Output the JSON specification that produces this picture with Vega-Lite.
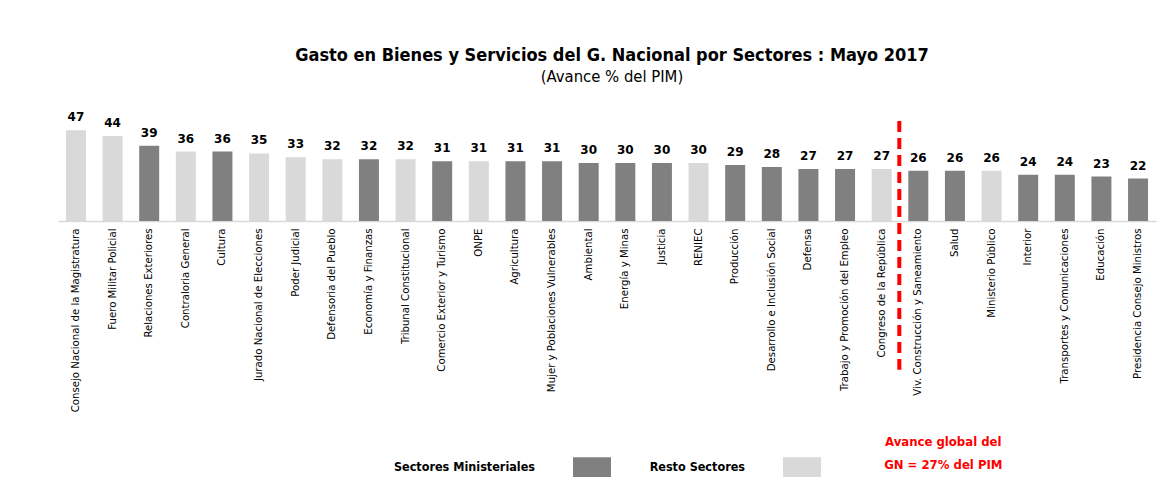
{
  "$schema": "https://vega.github.io/schema/vega-lite/v6.json",
  "width": 1098,
  "height": 100,
  "autosize": {"type": "none"},
  "padding": {"left": 58, "top": 121, "right": 10, "bottom": 267},
  "background": "white",
  "config": {
    "view": {"stroke": null},
    "font": "Liberation Sans Narrow, DejaVu Sans Condensed, sans-serif"
  },
  "title": {
    "text": "Gasto en Bienes y Servicios del G. Nacional por Sectores : Mayo 2017",
    "subtitle": "(Avance % del PIM)",
    "frame": "group",
    "anchor": "middle",
    "offset": 26,
    "fontSize": 18,
    "fontWeight": "bold",
    "color": "black",
    "subtitleFontSize": 16.5,
    "subtitleColor": "black",
    "subtitlePadding": 4,
    "dx": 5,
    "font": "Liberation Sans Narrow, DejaVu Sans Condensed, sans-serif",
    "subtitleFont": "Liberation Sans Narrow, DejaVu Sans Condensed, sans-serif"
  },
  "data": {
    "values": [
      {"sector": "Consejo Nacional de la Magistratura", "valor": 47, "tipo": "Resto Sectores"},
      {"sector": "Fuero Militar Policial", "valor": 44, "tipo": "Resto Sectores"},
      {"sector": "Relaciones Exteriores", "valor": 39, "tipo": "Sectores Ministeriales"},
      {"sector": "Contraloria General", "valor": 36, "tipo": "Resto Sectores"},
      {"sector": "Cultura", "valor": 36, "tipo": "Sectores Ministeriales"},
      {"sector": "Jurado Nacional de Elecciones", "valor": 35, "tipo": "Resto Sectores"},
      {"sector": "Poder Judicial", "valor": 33, "tipo": "Resto Sectores"},
      {"sector": "Defensoria del Pueblo", "valor": 32, "tipo": "Resto Sectores"},
      {"sector": "Economía y Finanzas", "valor": 32, "tipo": "Sectores Ministeriales"},
      {"sector": "Tribunal Constitucional", "valor": 32, "tipo": "Resto Sectores"},
      {"sector": "Comercio Exterior y Turismo", "valor": 31, "tipo": "Sectores Ministeriales"},
      {"sector": "ONPE", "valor": 31, "tipo": "Resto Sectores"},
      {"sector": "Agricultura", "valor": 31, "tipo": "Sectores Ministeriales"},
      {"sector": "Mujer y Poblaciones Vulnerables", "valor": 31, "tipo": "Sectores Ministeriales"},
      {"sector": "Ambiental", "valor": 30, "tipo": "Sectores Ministeriales"},
      {"sector": "Energía y Minas", "valor": 30, "tipo": "Sectores Ministeriales"},
      {"sector": "Justicia", "valor": 30, "tipo": "Sectores Ministeriales"},
      {"sector": "RENIEC", "valor": 30, "tipo": "Resto Sectores"},
      {"sector": "Producción", "valor": 29, "tipo": "Sectores Ministeriales"},
      {"sector": "Desarrollo e Inclusión Social", "valor": 28, "tipo": "Sectores Ministeriales"},
      {"sector": "Defensa", "valor": 27, "tipo": "Sectores Ministeriales"},
      {"sector": "Trabajo y Promoción del Empleo", "valor": 27, "tipo": "Sectores Ministeriales"},
      {"sector": "Congreso de la República", "valor": 27, "tipo": "Resto Sectores"},
      {"sector": "Viv. Construcción y Saneamiento", "valor": 26, "tipo": "Sectores Ministeriales"},
      {"sector": "Salud", "valor": 26, "tipo": "Sectores Ministeriales"},
      {"sector": "Ministerio Público", "valor": 26, "tipo": "Resto Sectores"},
      {"sector": "Interior", "valor": 24, "tipo": "Sectores Ministeriales"},
      {"sector": "Transportes y Comunicaciones", "valor": 24, "tipo": "Sectores Ministeriales"},
      {"sector": "Educación", "valor": 23, "tipo": "Sectores Ministeriales"},
      {"sector": "Presidencia Consejo Ministros", "valor": 22, "tipo": "Sectores Ministeriales"}
    ]
  },
  "layer": [
    {
      "mark": {"type": "bar"},
      "encoding": {
        "x": {
          "field": "sector",
          "type": "nominal",
          "sort": null,
          "scale": {"paddingInner": 0.454, "paddingOuter": 0.217},
          "axis": {
            "title": null,
            "labelAngle": -90,
            "labelFontSize": 11.3,
            "labelColor": "black",
            "labelPadding": 7,
            "labelLimit": 0,
            "labelOverlap": false,
            "ticks": false,
            "domainColor": "#d9d9d9",
            "domainWidth": 1.5
          }
        },
        "y": {
          "field": "valor",
          "type": "quantitative",
          "scale": {"domain": [0, 51.8], "nice": false},
          "axis": null
        },
        "color": {
          "field": "tipo",
          "type": "nominal",
          "scale": {
            "domain": ["Sectores Ministeriales", "Resto Sectores"],
            "range": ["#808080", "#d9d9d9"]
          },
          "legend": {
            "title": null,
            "orient": "none",
            "legendX": 515,
            "legendY": 327,
            "direction": "horizontal",
            "symbolType": "M-1,-0.52H1V0.52H-1Z",
            "symbolSize": 1444,
            "symbolStrokeWidth": 0,
            "labelOffset": -76,
            "labelAlign": "right",
            "labelFontSize": 12.5,
            "labelFontWeight": "bold",
            "labelColor": "black",
            "columnPadding": 38
          }
        }
      }
    },
    {
      "mark": {"type": "text", "baseline": "bottom", "dy": -6, "fontSize": 12, "fontWeight": "bold", "font": "DejaVu Sans", "color": "black"},
      "encoding": {
        "x": {"field": "sector", "type": "nominal", "sort": null},
        "y": {"field": "valor", "type": "quantitative"},
        "text": {"field": "valor", "type": "quantitative", "format": ".0f"}
      }
    },
    {
      "data": {"values": [{"referencia": "Avance global"}]},
      "mark": {"type": "rule", "color": "#ff0000", "strokeWidth": 4, "strokeDash": [11, 6], "xOffset": -19},
      "encoding": {
        "x": {"datum": "Viv. Construcción y Saneamiento"},
        "y": {"datum": 51.8},
        "y2": {"datum": -77}
      }
    },
    {
      "data": {"values": [{"nota": "Avance global del\nGN = 27% del PIM"}]},
      "mark": {"type": "text", "color": "#ff0000", "fontSize": 13, "fontWeight": "bold", "lineBreak": "\n", "lineHeight": 23, "baseline": "middle", "align": "center", "dx": 25},
      "encoding": {
        "x": {"datum": "Viv. Construcción y Saneamiento"},
        "y": {"datum": -114.3},
        "text": {"field": "nota"}
      }
    }
  ]
}
